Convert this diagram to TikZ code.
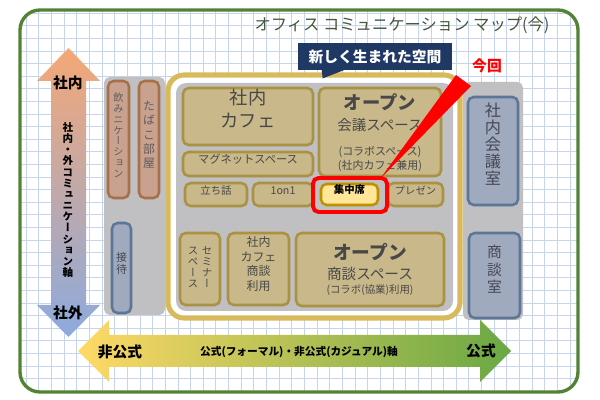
\documentclass[tikz,border=0pt]{standalone}
\usepackage{fontspec}
\setmainfont{Noto Sans CJK JP}
\newfontfamily\vfont[RawFeature=+vert]{Noto Sans CJK JP}
\usetikzlibrary{positioning,fit,shadows}
\definecolor{gridc}{RGB}{198,212,238}
\definecolor{framec}{RGB}{84,130,53}
\definecolor{ttlc}{RGB}{70,85,60}
\definecolor{txtc}{RGB}{72,72,72}
\definecolor{kfill}{RGB}{200,184,138}
\definecolor{kdraw}{RGB}{170,146,66}
\definecolor{ringc}{RGB}{216,186,92}
\definecolor{grpc}{RGB}{192,192,194}
\definecolor{rfill}{RGB}{200,162,142}
\definecolor{rdraw}{RGB}{168,112,72}
\definecolor{bfill}{RGB}{160,170,190}
\definecolor{bdraw}{RGB}{92,118,152}
\definecolor{yfill}{RGB}{255,230,153}
\definecolor{ydraw}{RGB}{191,144,0}
\definecolor{navyc}{RGB}{31,56,100}
\definecolor{upc}{RGB}{244,168,118}
\definecolor{midc}{RGB}{205,178,196}
\definecolor{dnc}{RGB}{140,170,222}
\definecolor{lftc}{RGB}{255,217,102}
\definecolor{rgtc}{RGB}{106,168,68}
\tikzset{
  gridln/.style={draw=gridc, line width=0.4pt},
  frame/.style={draw=framec, line width=2.4pt, rounded corners=0.5cm},
  ttl/.style={text=ttlc, inner sep=0pt, font=\fontsize{11.6}{12}\selectfont},
  grp/.style={rectangle, rounded corners=4pt, fill=grpc, inner sep=0pt},
  box/.style={rectangle, rounded corners=4pt, inner sep=0pt, line width=1.8pt, align=center, text=txtc,
    drop shadow={opacity=0.25, shadow xshift=0.8pt, shadow yshift=-0.8pt}},
  kb/.style={box, draw=kdraw, fill=kfill},
  rb/.style={box, draw=rdraw, fill=rfill, text={rgb,255:red,100;green,90;blue,90}},
  bb/.style={box, draw=bdraw, fill=bfill, text={rgb,255:red,70;green,72;blue,84}},
  yb/.style={box, draw=ydraw, fill=yfill, text=black},
  hl/.style={rectangle, rounded corners=4pt, inner sep=0pt, draw=red, line width=2.8pt},
  tx/.style={inner sep=0pt, align=center, text=txtc},
  ax/.style={inner sep=0pt, align=center, text=black, font=\bfseries\fontsize{10.5}{11}\selectfont},
  call/.style={rectangle, fill=navyc, text=white, inner sep=0pt, minimum width=3.85cm, minimum height=0.68cm,
    font=\bfseries\fontsize{10.5}{11}\selectfont}
}
\begin{document}
\begin{tikzpicture}[x=0.025cm, y=-0.025cm]
\useasboundingbox (0,0) rectangle (600,400);
% grid paper
\begin{scope}
  \clip[rounded corners=0.5cm] (20,10) rectangle (578,392);
  \fill[white] (20,10) rectangle (578,392);
  \foreach \i in {0,...,44} \draw[gridln] ({26+\i*12.65},10) -- ({26+\i*12.65},392);
  \foreach \j in {0,...,30} \draw[gridln] (20,{13+\j*12.6}) -- (578,{13+\j*12.6});
\end{scope}
\draw[frame] (20,10) rectangle (578,392);
\node[ttl] (title) at (402,25) {オフィス コミュニケーション マップ(今)};
%
% axes
\shade[top color=upc, middle color=midc, bottom color=dnc]
  (68.5,48) -- (100,81) -- (86,81) -- (86,305) -- (100,305) -- (68.5,337)
  -- (37,305) -- (51,305) -- (51,81) -- (37,81) -- cycle;
\shade[left color=lftc, right color=rgtc]
  (78,351) -- (109,320) -- (109,335) -- (480,335) -- (480,320) -- (511,351)
  -- (480,382) -- (480,367) -- (109,367) -- (109,382) -- cycle;
\node[ax] (inL) at (68,83) {社内};
\node[ax, font=\vfont\bfseries\fontsize{7.5}{7.95}\selectfont] (axV) at (68,200)
  {社\\内\\・\\外\\コ\\ミ\\ュ\\ニ\\ケ\\ー\\シ\\ョ\\ン\\軸};
\node[ax] (outL) at (68,313) {社外};
\node[ax] (infL) at (120,352) {非公式};
\node[ax, font=\bfseries\fontsize{7.6}{8}\selectfont] (axH) at (299,352) {公式(フォーマル)・非公式(カジュアル)軸};
\node[ax] (frmL) at (481,351) {公式};
%
% left group
\node[grp, fit={(104,77) (165,315)}] (gl) {};
\node[rb, fit={(108,81) (129,198)}, font=\vfont\fontsize{7.2}{7.7}\selectfont] (nomi) {飲\\み\\ニ\\ケ\\ー\\シ\\ョ\\ン};
\node[rb, fit={(139,81) (159,198)}, font=\vfont\fontsize{8.4}{10}\selectfont] (tabako) {た\\ば\\こ\\部\\屋};
\node[bb, fit={(112,223) (131,313)}, font=\vfont\fontsize{7.8}{8.9}\selectfont] (settai) {接\\待};
%
% new space
\draw[ringc, line width=3.6pt, fill=white, rounded corners=0.4cm] (168,75) rectangle (460,318);
\node[grp, rounded corners=0.25cm, fit={(176,83) (453,311)}] (gc) {};
\node[kb, fit={(183,88) (313,145)}, font=\fontsize{13}{16.3}\selectfont] (cafe) {社内\\カフェ};
\node[kb, fit={(183,152) (313,176)}, font=\fontsize{8}{8}\selectfont] (magnet) {マグネットスペース};
\node[kb, fit={(185,183) (247,206)}, font=\fontsize{7.4}{7.4}\selectfont] (tachi) {立ち話};
\node[kb, fit={(253,183) (313,206)}, font=\fontsize{7.6}{7.6}\selectfont] (oneon) {1on1};
\node[yb, fit={(321,184) (378,205)}, font=\bfseries\fontsize{7.4}{7.4}\selectfont] (shuchu) {集中席};
\node[kb, fit={(388,183) (443,206)}, font=\fontsize{7.3}{7.3}\selectfont] (prezen) {プレゼン};
\node[kb, fit={(319,88) (441,176)}] (kaigi) {};
\node[tx, font=\bfseries\fontsize{13}{13}\selectfont] (kaigiA) at (380,102) {オープン};
\node[tx, font=\fontsize{10.3}{11}\selectfont] (kaigiB) at (380,125) {会議スペース};
\node[tx, font=\fontsize{7.8}{9.4}\selectfont] (kaigiC) at (380,159) {(コラボスペース)\\(社内カフェ兼用)};
\node[kb, fit={(180,233) (220,305)}] (semi) {};
\node[tx, font=\vfont\fontsize{7.4}{7.8}\selectfont] (semiA) at (207,267) {セ\\ミ\\ナ\\ー};
\node[tx, font=\vfont\fontsize{7.4}{7.8}\selectfont] (semiB) at (193,267) {ス\\ペ\\ー\\ス};
\node[kb, fit={(228,233) (289,305)}, font=\fontsize{8.5}{10.6}\selectfont] (cshodan) {社内\\カフェ\\商談\\利用};
\node[kb, fit={(296,233) (444,306)}] (shodan) {};
\node[tx, font=\bfseries\fontsize{13.3}{13}\selectfont] (shodanA) at (370,252) {オープン};
\node[tx, font=\fontsize{10.4}{11}\selectfont] (shodanB) at (370,274) {商談スペース};
\node[tx, font=\fontsize{7.4}{8}\selectfont] (shodanC) at (370,290) {(コラボ(協業)利用)};
\node[hl, fit={(313,178) (387,212)}] (focus) {};
%
% right group
\node[grp, fit={(463,82) (523,320)}] (gr) {};
\node[bb, fit={(468,97) (518,205)}, font=\vfont\fontsize{11.5}{12}\selectfont] (kaigishitsu) {社\\内\\会\\議\\室};
\node[bb, fit={(469,233) (520,318)}, font=\vfont\fontsize{10.5}{12.7}\selectfont] (shodanshitsu) {商\\談\\室};
%
% callout
\node[call] (newsp) at (375,56.5) {新しく生まれた空間};
\fill[navyc] (newsp.south west) ++(24,-0.5) -- ++(1,8.5) -- ++(22,-8.5) -- cycle;
\node[ax, text=red] (konkai) at (487,66) {今回};
\coordinate (wl) at (456,75);
\coordinate (wr) at (471,86);
\coordinate (tip) at (380,179);
\fill[red] (wl) -- (wr) -- (tip) -- cycle;
\end{tikzpicture}
\end{document}
